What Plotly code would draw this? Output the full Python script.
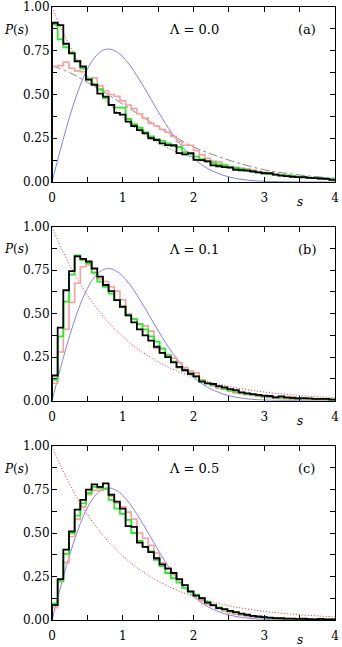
import plotly.graph_objects as go
from plotly.subplots import make_subplots

# histograms: 50 bins of width 0.08 on [0, 4]
bin_width = 0.08
n_bins = 50

# panel (a), Lambda = 0.0
black_a = [0.91, 0.897, 0.79, 0.735, 0.69, 0.66, 0.585, 0.555, 0.505, 0.488,
           0.44, 0.395, 0.385, 0.345, 0.32, 0.297, 0.278, 0.25, 0.24, 0.221,
           0.211, 0.21, 0.165, 0.158, 0.165, 0.126, 0.125, 0.118, 0.095, 0.09,
           0.085, 0.082, 0.07, 0.067, 0.065, 0.06, 0.055, 0.05, 0.05, 0.042,
           0.036, 0.033, 0.03, 0.028, 0.027, 0.024, 0.022, 0.02, 0.018, 0.012]
green_a = [0.90, 0.815, 0.77, 0.74, 0.69, 0.65, 0.59, 0.56, 0.53, 0.48,
           0.44, 0.425, 0.425, 0.36, 0.33, 0.31, 0.285, 0.26, 0.245, 0.235,
           0.22, 0.205, 0.2, 0.17, 0.16, 0.145, 0.13, 0.12, 0.11, 0.1,
           0.095, 0.085, 0.08, 0.075, 0.068, 0.062, 0.055, 0.05, 0.047, 0.043,
           0.04, 0.037, 0.033, 0.03, 0.028, 0.025, 0.023, 0.021, 0.019, 0.017]
pink_a = [0.66, 0.665, 0.685, 0.65, 0.635, 0.63, 0.585, 0.595, 0.55, 0.52,
          0.5, 0.49, 0.465, 0.44, 0.42, 0.39, 0.365, 0.335, 0.32, 0.3,
          0.285, 0.26, 0.23, 0.21, 0.21, 0.18, 0.155, 0.135, 0.12, 0.115,
          0.1, 0.09, 0.085, 0.08, 0.075, 0.068, 0.06, 0.055, 0.048, 0.04,
          0.038, 0.035, 0.03, 0.028, 0.027, 0.022, 0.02, 0.018, 0.016, 0.014]

# panel (b), Lambda = 0.1
black_b = [0.145, 0.42, 0.635, 0.745, 0.83, 0.815, 0.8, 0.76, 0.713, 0.665,
           0.63, 0.578, 0.54, 0.49, 0.45, 0.41, 0.375, 0.345, 0.31, 0.275,
           0.25, 0.22, 0.195, 0.175, 0.155, 0.14, 0.11, 0.1, 0.096, 0.084,
           0.077, 0.067, 0.061, 0.048, 0.042, 0.038, 0.033, 0.029, 0.027, 0.019,
           0.025, 0.019, 0.017, 0.013, 0.015, 0.013, 0.011, 0.01, 0.01, 0.006]
green_b = [0.12, 0.37, 0.57, 0.725, 0.835, 0.81, 0.79, 0.735, 0.685, 0.655,
           0.615, 0.58, 0.54, 0.49, 0.47, 0.44, 0.41, 0.37, 0.34, 0.3,
           0.26, 0.225, 0.19, 0.175, 0.155, 0.14, 0.115, 0.1, 0.09, 0.08,
           0.07, 0.06, 0.052, 0.046, 0.04, 0.035, 0.03, 0.027, 0.022, 0.02,
           0.018, 0.016, 0.014, 0.013, 0.012, 0.01, 0.009, 0.009, 0.008, 0.007]
pink_b = [0.1, 0.28, 0.41, 0.565, 0.675, 0.77, 0.78, 0.74, 0.7, 0.685,
          0.655, 0.63, 0.58, 0.5, 0.47, 0.44, 0.43, 0.4, 0.3, 0.275,
          0.265, 0.245, 0.22, 0.19, 0.17, 0.16, 0.12, 0.1, 0.085, 0.07,
          0.065, 0.055, 0.045, 0.04, 0.035, 0.03, 0.025, 0.02, 0.018, 0.015,
          0.012, 0.01, 0.008, 0.008, 0.007, 0.006, 0.006, 0.005, 0.005, 0.004]

# panel (c), Lambda = 0.5
black_c = [0.085, 0.235, 0.405, 0.51, 0.635, 0.69, 0.75, 0.78, 0.765, 0.785,
           0.72, 0.68, 0.64, 0.54, 0.535, 0.445, 0.42, 0.39, 0.355, 0.32,
           0.295, 0.27, 0.235, 0.2, 0.165, 0.14, 0.125, 0.1, 0.085, 0.068,
           0.062, 0.052, 0.045, 0.037, 0.03, 0.024, 0.02, 0.016, 0.014, 0.011,
           0.01, 0.008, 0.008, 0.006, 0.007, 0.005, 0.004, 0.006, 0.004, 0.003]
green_c = [0.095, 0.225, 0.38, 0.5, 0.6, 0.67, 0.73, 0.765, 0.76, 0.755,
           0.69, 0.64, 0.61, 0.575, 0.5, 0.455, 0.42, 0.395, 0.345, 0.31,
           0.27, 0.24, 0.215, 0.185, 0.16, 0.145, 0.125, 0.105, 0.085, 0.072,
           0.06, 0.05, 0.042, 0.034, 0.028, 0.022, 0.018, 0.015, 0.012, 0.01,
           0.008, 0.007, 0.006, 0.005, 0.005, 0.004, 0.004, 0.003, 0.004, 0.003]
pink_c = [0.07, 0.22, 0.33, 0.48, 0.58, 0.65, 0.72, 0.745, 0.745, 0.75,
          0.71, 0.67, 0.65, 0.62, 0.58, 0.5, 0.47, 0.43, 0.385, 0.33,
          0.3, 0.26, 0.23, 0.2, 0.16, 0.14, 0.11, 0.09, 0.08, 0.065,
          0.05, 0.04, 0.033, 0.027, 0.02, 0.017, 0.014, 0.012, 0.01, 0.008,
          0.008, 0.006, 0.005, 0.005, 0.004, 0.003, 0.003, 0.003, 0.002, 0.002]

# smooth reference curves, read at s = 0, 0.1, ..., 4.0
s_curve = [i / 10 for i in range(41)]
wigner = [0.0, 0.156, 0.305, 0.439, 0.554, 0.645, 0.71, 0.748, 0.76, 0.747,
          0.716, 0.668, 0.608, 0.542, 0.472, 0.403, 0.336, 0.276, 0.222, 0.175,
          0.136, 0.103, 0.077, 0.057, 0.041, 0.029, 0.02, 0.014, 0.009, 0.006,
          0.004, 0.003, 0.002, 0.001, 0.001, 0.0, 0.0, 0.0, 0.0, 0.0, 0.0]
poisson = [1.0, 0.905, 0.819, 0.741, 0.67, 0.607, 0.549, 0.497, 0.449, 0.407,
           0.368, 0.333, 0.301, 0.273, 0.247, 0.223, 0.202, 0.183, 0.165, 0.15,
           0.135, 0.122, 0.111, 0.1, 0.091, 0.082, 0.074, 0.067, 0.061, 0.055,
           0.05, 0.045, 0.041, 0.037, 0.033, 0.03, 0.027, 0.025, 0.022, 0.02, 0.018]

# gray dash-dot curve in panel (a)
s_gray = [0, 0.25, 0.5, 0.75, 1.0, 1.25, 1.5, 1.75, 2.0, 2.25, 2.5, 3.0, 3.5, 4.0]
gray_a = [0.665, 0.625, 0.57, 0.51, 0.445, 0.38, 0.315, 0.255, 0.2, 0.16, 0.125, 0.07, 0.04, 0.022]

panels = [
    ('0.0', '(a)', black_a, green_a, pink_a),
    ('0.1', '(b)', black_b, green_b, pink_b),
    ('0.5', '(c)', black_c, green_c, pink_c),
]

font = 'DejaVu Serif'


def step_xy(vals):
    # step outline starting from zero at s = 0
    xs = [0.0] + [round(i * bin_width, 2) for i in range(n_bins)] + [4.0]
    ys = [0.0] + list(vals) + [vals[-1]]
    return xs, ys


fig = make_subplots(rows=3, cols=1, vertical_spacing=0.073)

for row, (lam, tag, black, green, pink) in enumerate(panels, start=1):
    fig.add_trace(go.Scatter(x=s_curve, y=wigner, mode='lines', line_shape='spline',
                             line=dict(color='#8080ff', width=1)), row=row, col=1)
    fig.add_trace(go.Scatter(x=s_curve, y=poisson, mode='lines', line_shape='spline',
                             line=dict(color='#ff2020', width=1, dash='1px,2px')), row=row, col=1)
    if row == 1:
        fig.add_trace(go.Scatter(x=s_gray, y=gray_a, mode='lines', line_shape='spline',
                                 line=dict(color='#888888', width=1, dash='dashdot')), row=row, col=1)
    for vals, color, w in [(pink, '#ff9c9c', 1.6), (green, '#22ee22', 1.8), (black, '#000000', 1.8)]:
        xs, ys = step_xy(vals)
        fig.add_trace(go.Scatter(x=xs, y=ys, mode='lines', line_shape='hv',
                                 line=dict(color=color, width=w)), row=row, col=1)

    xref = 'x domain' if row == 1 else f'x{row} domain'
    yref = 'y domain' if row == 1 else f'y{row} domain'
    ann_font = dict(family=font, size=13, color='black')
    fig.add_annotation(x=-0.127, y=0.87, xref=xref, yref=yref, text='<i>P</i>(<i>s</i>)',
                       xanchor='center', yanchor='middle', showarrow=False,
                       font=dict(family=font, size=12, color='black'))
    for ax, ay, txt in [(0.503, 0.87, f'Λ = {lam}'),
                        (0.9, 0.87, tag)]:
        fig.add_annotation(x=ax, y=ay, xref=xref, yref=yref, text=txt,
                           xanchor='center', yanchor='middle',
                           showarrow=False, font=ann_font)
    fig.add_annotation(x=0.876, y=-0.115, xref=xref, yref=yref, text='<i>s</i>',
                       xanchor='center', yanchor='middle', showarrow=False,
                       font=dict(family=font, size=12, color='black'))

fig.update_xaxes(range=[-0.0001, 4.0001], tickmode='linear', tick0=0, dtick=1,
                 ticks='inside', ticklen=5, automargin=False,
                 minor=dict(tick0=0, dtick=0.5, ticks='inside', ticklen=5, tickcolor='black'),
                 showline=True, linecolor='black', linewidth=1, mirror='ticks',
                 showgrid=False, zeroline=False, tickcolor='black', ticklabelstandoff=5,
                 ticklabeloverflow='allow',
                 tickfont=dict(family=font, size=12, color='black'))
fig.update_yaxes(range=[-0.0001, 1.0001], tickvals=[0, 0.25, 0.5, 0.75, 1.0], tickformat='.2f',
                 ticks='inside', ticklen=5, automargin=False,
                 minor=dict(tick0=0, dtick=0.125, ticks='inside', ticklen=5, tickcolor='black'),
                 showline=True, linecolor='black', linewidth=1, mirror='ticks',
                 showgrid=False, zeroline=False, tickcolor='black', ticklabelstandoff=-1,
                 ticklabeloverflow='allow',
                 tickfont=dict(family=font, size=12, color='black'))

fig.update_layout(
    width=342, height=647,
    margin=dict(l=52, r=7, t=7, b=27),
    showlegend=False,
    paper_bgcolor='white',
    plot_bgcolor='white',
    yaxis=dict(domain=[0.7145, 1.0]),
    yaxis2=dict(domain=[0.3577, 0.6416]),
    yaxis3=dict(domain=[0.0, 0.2838]),
)

# drop the browser's default page margin so the figure sits at the window corner
fig.write_html('out.html', config={'displayModeBar': False},
               post_script="document.body.style.margin='0';")
